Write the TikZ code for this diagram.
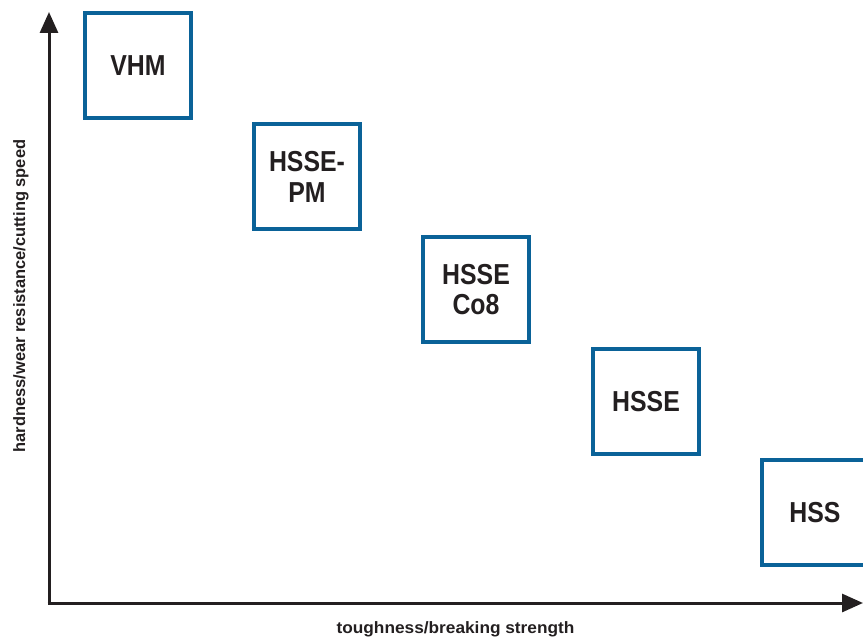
\documentclass[tikz,border=0pt]{standalone}
\usepackage{fontspec}
\setmainfont{Liberation Sans}
\newfontfamily\boxfont{Liberation Sans}[FakeStretch=0.86]
\usetikzlibrary{arrows.meta}
\definecolor{boxblue}{RGB}{10,98,152}
\definecolor{ink}{RGB}{35,31,32}
\tikzset{
  matbox/.style={draw=boxblue, line width=3.5bp, minimum width=106bp, minimum height=105bp,
    inner sep=0pt, align=center, text=ink, font=\boxfont\bfseries\fontsize{29}{31}\selectfont},
  axisline/.style={draw=ink, line width=3bp, -{Triangle[length=21bp,width=18bp]}},
  axislabel/.style={text=ink, inner sep=0pt, font=\bfseries\fontsize{16.5}{18}\selectfont}
}
\begin{document}
\begin{tikzpicture}[x=1bp,y=-1bp]
\useasboundingbox (0,0) rectangle (863,637);
\fill[white] (0,0) rectangle (863,637);
\coordinate (O) at (49,603);
\coordinate (ytip) at (49,12);
\coordinate (xtip) at (863,603);
\coordinate (ystart) at (49,604.5);
\coordinate (xstart) at (47.5,603);
\draw[axisline] (ystart) -- (ytip);
\draw[axisline] (xstart) -- (xtip);
\begin{scope}
\clip (0,0) rectangle (863,637);
\node[matbox] (vhm) at (138,65.5) {VHM};
\node[matbox] (hssepm) at (307,176.5) {HSSE-\\PM};
\node[matbox] (hsseco) at (476,289.5) {HSSE\\Co8};
\node[matbox] (hsse) at (646,401.5) {HSSE};
\node[matbox] (hss) at (815,512.5) {HSS};
\end{scope}
\node[axislabel, anchor=base] (xlab) at (455.5,633) {\scalebox{1.05}[1]{toughness/breaking strength}};
\node[axislabel, anchor=base, rotate=90] (ylab) at (25,296) {hardness/wear resistance/cutting speed};
\end{tikzpicture}
\end{document}
